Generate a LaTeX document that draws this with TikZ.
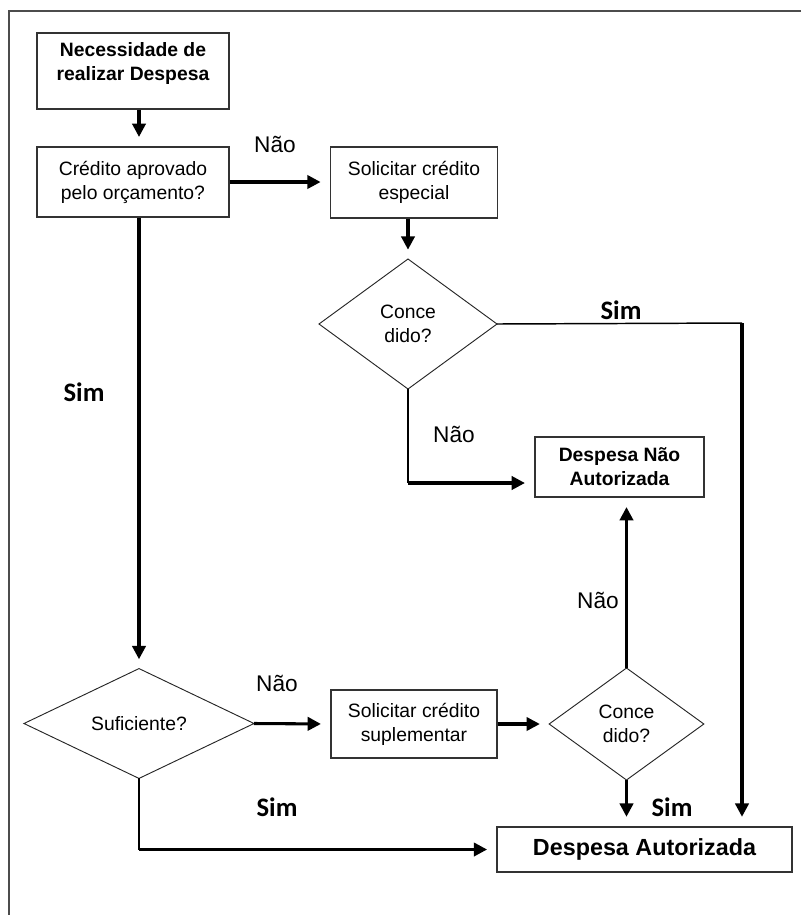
\documentclass[tikz,border=0pt]{standalone}
\usepackage{fontspec}
\setmainfont{Liberation Sans}
\newfontfamily\simfont{Carlito}
\usetikzlibrary{shapes.geometric,arrows.meta}

\begin{document}
\begin{tikzpicture}[x=0.75pt, y=-0.75pt,
    box/.style={draw=black!80, line width=1.1pt, align=center, inner sep=2pt,
        font=\fontsize{14.5}{18}\selectfont},
    boldbox/.style={box, font=\bfseries\fontsize{14.5}{18}\selectfont},
    decision/.style={diamond, draw=black!85, line width=0.7pt, align=center,
        inner sep=0pt, outer sep=0pt, font=\fontsize{14.5}{18}\selectfont},
    flow/.style={line width=2.3pt, -{Triangle[length=10pt,width=10pt]}, shorten >=7pt},
    link/.style={line width=1.1pt},
    nao/.style={font=\fontsize{17}{20}\selectfont},
    sim/.style={font=\simfont\bfseries\fontsize{20}{24}\selectfont}]
    \useasboundingbox (0,0) rectangle (801,915);

    % frame
    \draw[line width=1.5pt, black!70] (801,11) -- (9,11) -- (9,915);

    % boxes
    \node[boldbox, minimum width=144pt, minimum height=57pt] (nec) at (133,71)
        {Necessidade de\\realizar Despesa\\[-4pt]\mbox{}};
    \node[box, minimum width=144pt, minimum height=52.5pt] (cred) at (133,182)
        {Crédito aprovado\\pelo orçamento?};
    \node[box, minimum width=125pt, minimum height=53pt] (esp) at (414,182.5)
        {Solicitar crédito\\especial};
    \node[boldbox, minimum width=126.75pt, minimum height=45pt] (dna) at (619.5,467)
        {Despesa Não\\Autorizada};
    \node[box, minimum width=124.5pt, minimum height=51pt] (sup) at (414,724)
        {Solicitar crédito\\suplementar};
    \node[box, font=\bfseries\fontsize{17.5}{21}\selectfont,
        minimum width=221pt, minimum height=34pt] (aut) at (644.5,849.5)
        {Despesa Autorizada};

    % decisions
    \node[decision, minimum width=133.5pt, minimum height=97.5pt] (con1) at (408,324)
        {Conce\\dido?};
    \node[decision, minimum width=172.5pt, minimum height=70pt] (suf) at (139,723.5)
        {Suficiente?};
    \node[decision, minimum width=116pt, minimum height=84pt] (con2) at (626.5,724)
        {Conce\\dido?};

    % turning points
    \coordinate (simturn) at (742,323);
    \coordinate (naoturn) at (408,483);
    \coordinate (sufturn) at (suf.south |- aut.west);

    % arrows
    \draw[flow] (nec.south -| suf.north) -- (suf.north |- cred.north);
    \draw[flow] (cred.east) -- (cred.east -| esp.west);
    \draw[flow] (esp.south -| con1.north) -- (con1.north);
    \draw[flow] (cred.south -| suf.north) -- (suf.north);
    \draw[flow] (suf.east) -- (sup.west);
    \draw[flow] (sup.east) -- (con2.west);
    \draw[flow] (con2.north) -- (con2.north |- dna.south);
    \draw[flow] (con2.south) -- (con2.south |- aut.north);
    \draw[link] (con1.east) -- (simturn);
    \draw[flow] (simturn) -- (simturn |- aut.north);
    \draw[link] (con1.south) -- (naoturn);
    \draw[flow] (naoturn) -- (naoturn -| dna.west);
    \draw[link] (suf.south) -- (sufturn);
    \draw[flow] (sufturn) -- (aut.west);

    % labels
    \node[nao] (nao1) at (275,144) {Não};
    \node[sim] (sim1) at (84,392) {Sim};
    \node[sim] (sim2) at (621,310) {Sim};
    \node[nao] (nao2) at (454,434) {Não};
    \node[nao] (nao3) at (598,600) {Não};
    \node[nao] (nao4) at (277,683) {Não};
    \node[sim] (sim3) at (277,807) {Sim};
    \node[sim] (sim4) at (672,807) {Sim};
\end{tikzpicture}
\end{document}
